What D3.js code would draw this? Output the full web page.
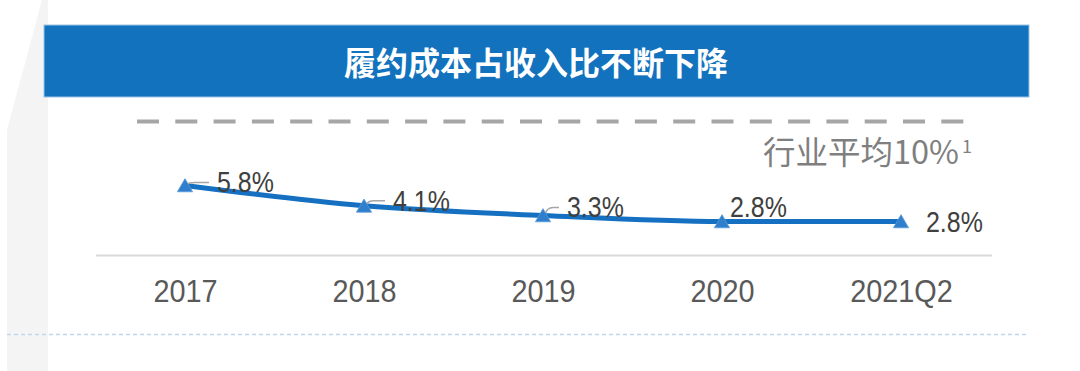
<!DOCTYPE html>
<html><head><meta charset="utf-8">
<script src="https://cdn.jsdelivr.net/npm/d3@7"></script>
<style>html,body{margin:0;padding:0;background:#fff;}svg{display:block;}</style>
</head><body>
<svg id="c" width="1080" height="371"></svg>
<script>
// ---- data ----
const title = "履约成本占收入比不断下降";
const categories = ["2017", "2018", "2019", "2020", "2021Q2"];
const values = [5.8, 4.1, 3.3, 2.8, 2.8];
const valueLabels = ["5.8%", "4.1%", "3.3%", "2.8%", "2.8%"];
const industryAvgLabel = "行业平均10%";
const industryAvgNote = "1";
// ---- layout (label placement relative to each point) ----
const labelDx = [32, 29, 24, 8, 25];
const labelDy = [7, 5, 2, -4, 11];
const hasLeader = [true, true, true, false, false];

const svg = d3.select("#c");

// left gray decorative band
svg.append("path")
  .attr("d", "M42,0 L48,0 L48,371 L7,371 L7,130 Z")
  .attr("fill", "#f4f4f4");

// title banner
svg.append("rect").attr("x", 44).attr("y", 25).attr("width", 985).attr("height", 72)
  .attr("fill", "#1272bd").attr("stroke", "#9dc3e6").attr("stroke-width", 1);
svg.append("text").attr("x", 536).attr("y", 61)
  .attr("text-anchor", "middle").attr("dominant-baseline", "central")
  .attr("font-family", "'Noto Sans CJK SC', sans-serif").attr("font-weight", "bold")
  .attr("font-size", 32).attr("fill", "#fff").text(title);

// industry average dashed line
svg.append("line").attr("x1", 137).attr("x2", 976).attr("y1", 121.5).attr("y2", 121.5)
  .attr("stroke", "#a6a6a6").attr("stroke-width", 4).attr("stroke-dasharray", "22 16.3");
svg.append("text").attr("x", 959).attr("y", 164).attr("text-anchor", "end")
  .attr("font-family", "'Noto Sans CJK SC', sans-serif").attr("font-size", 32)
  .attr("fill", "#7f7f7f").attr("textLength", 196).attr("lengthAdjust", "spacingAndGlyphs")
  .text(industryAvgLabel);
svg.append("text").attr("x", 962).attr("y", 153)
  .attr("font-family", "'Noto Sans CJK SC', sans-serif").attr("font-size", 18)
  .attr("fill", "#7f7f7f").text(industryAvgNote);

// scales
const x = d3.scalePoint().domain(categories).range([185, 901]);
const y = d3.scaleLinear().domain([0, 6]).range([255, 183]);

// axis
const axisG = svg.append("g").attr("transform", "translate(0,255.5)");
axisG.call(d3.axisBottom(x).tickSize(0).tickPadding(0));
axisG.select(".domain").remove();
axisG.append("line").attr("x1", 96).attr("x2", 992).attr("y1", 0).attr("y2", 0)
  .attr("stroke", "#d9d9d9").attr("stroke-width", 2);
axisG.selectAll(".tick text")
  .attr("dy", null).attr("y", 46)
  .attr("font-family", "'Liberation Sans', Arial, sans-serif")
  .attr("font-size", 31).attr("fill", "#595959")
  .each(function(){ const l = this.getComputedTextLength(); d3.select(this).attr("textLength", l*0.93).attr("lengthAdjust","spacingAndGlyphs"); });

// bottom dotted line
svg.append("line").attr("x1", 7).attr("x2", 1029).attr("y1", 334.5).attr("y2", 334.5)
  .attr("stroke", "#bdd7ee").attr("stroke-width", 1.5).attr("stroke-dasharray", "4 3");

// series line
const pts = categories.map((c, i) => [x(c), y(values[i])]);
svg.append("path").datum(pts)
  .attr("d", d3.line().curve(d3.curveMonotoneX))
  .attr("fill", "none").attr("stroke", "#1570c1").attr("stroke-width", 5)
  .attr("stroke-linecap", "round");

// leader lines
pts.forEach((p, i) => {
  if (!hasLeader[i]) return;
  const ex = p[0] + labelDx[i] - 8, ey = p[1] + labelDy[i] - 10;
  svg.append("path")
    .attr("d", `M${p[0]+2},${p[1]-1} Q${p[0]+4},${ey} ${p[0]+10},${ey} L${ex},${ey}`)
    .attr("fill", "none").attr("stroke", "#a6a6a6").attr("stroke-width", 1.5);
});

// markers
svg.selectAll(".mk").data(pts).join("path").attr("class", "mk")
  .attr("transform", d => `translate(${d[0]},${d[1] + 2})`)
  .attr("d", d3.symbol().type(d3.symbolTriangle).size(100))
  .attr("fill", "#2f7fcc").attr("stroke", "#5b9bd5").attr("stroke-width", 0.8);

// value labels
svg.selectAll(".vl").data(pts).join("text").attr("class", "vl")
  .attr("x", (d, i) => d[0] + labelDx[i])
  .attr("y", (d, i) => d[1] + labelDy[i])
  .attr("font-family", "'Liberation Sans', Arial, sans-serif")
  .attr("font-size", 29).attr("fill", "#404040")
  .text((d, i) => valueLabels[i])
  .each(function(){ const l = this.getComputedTextLength(); d3.select(this).attr("textLength", l*0.86).attr("lengthAdjust","spacingAndGlyphs"); });
</script>
</body></html>
